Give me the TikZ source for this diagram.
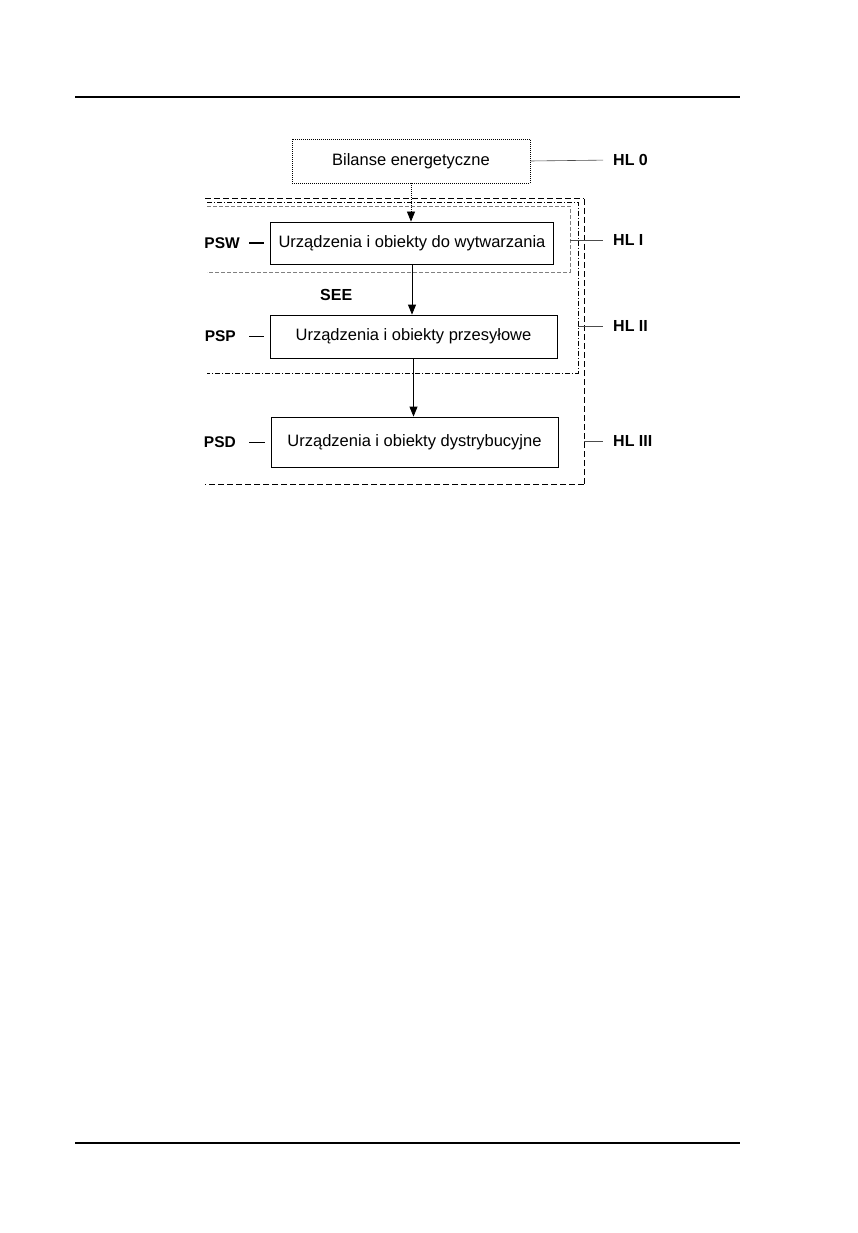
\documentclass[tikz,border=0pt]{standalone}
\usepackage{fontspec}
\setmainfont{Liberation Sans}
\usetikzlibrary{arrows.meta}
\begin{document}
\begin{tikzpicture}[x=1pt, y=-1pt,
        box/.style={draw, line width=0.8pt, minimum width=283pt, minimum height=42pt, inner sep=0pt, font=\fontsize{16.5}{19}\selectfont},
        dotbox/.style={box, dash pattern=on 1pt off 1pt, minimum width=238pt, minimum height=44pt},
        lvl/.style={anchor=west, inner sep=0pt, font=\fontsize{16}{18}\selectfont\bfseries},
        sys/.style={anchor=east, inner sep=0pt, font=\fontsize{15.5}{18}\selectfont\bfseries},
        tie/.style={gray!60!black, line width=0.6pt, shorten >=10pt},
        tick/.style={line width=0.8pt, shorten <=9pt, shorten >=6pt},
        flow/.style={line width=0.8pt, -{Triangle[length=10pt, width=8pt]}},
    ]
    \useasboundingbox (0,0) rectangle (858,1233);

    % ===== Page rules =====
    \draw[line width=1.2pt] (75,97) -- (740,97);
    \draw[line width=1.2pt] (75,1143) -- (740,1143);

    % ===== Boxes =====
    \node[dotbox] (bil) at (411,161) {Bilanse energetyczne};
    \node[box] (psw) at (412,243) {Urządzenia i obiekty do wytwarzania};
    \node[box, minimum width=287pt, minimum height=43pt] (psp) at (413.5,336.5) {Urządzenia i obiekty przesyłowe};
    \node[box, minimum width=287pt, minimum height=50pt] (psd) at (414.5,442) {Urządzenia i obiekty dystrybucyjne};

    % ===== Level frames (open on the left) =====
    % HL III
    \draw[line width=1pt, dash pattern=on 6pt off 3pt] (205,199) -- (584,199);
    \draw[line width=1pt, dash pattern=on 6pt off 3pt] (584,484) -- (205,484);
    \draw[line width=0.6pt, dash pattern=on 6pt off 3pt] (584,199) -- (584,484);
    % HL II
    \draw[line width=0.7pt, dash pattern=on 5pt off 2pt on 1pt off 2pt] (207,202) -- (578,202) -- (578,373) -- (207,373);
    % HL I
    \draw[gray, line width=0.6pt, dash pattern=on 4pt off 2pt] (207,206) -- (570,206) -- (570,272) -- (207,272);

    \coordinate (f1) at (570,240);
    \coordinate (f2) at (578,326);
    \coordinate (f3) at (584,441);

    % ===== Level labels =====
    \node[lvl] (hl0) at (613,160) {HL 0};
    \node[lvl] (hl1) at (613,240) {HL I};
    \node[lvl] (hl2) at (613,326) {HL II};
    \node[lvl] (hl3) at (613,441) {HL III};

    \draw[tie] (bil.east) -- (hl0.west);
    \draw[tie] (f1) -- (hl1.west);
    \draw[tie] (f2) -- (hl2.west);
    \draw[tie] (f3) -- (hl3.west);

    % ===== Subsystem labels =====
    \node[sys] (pswlab) at (240,243) {PSW};
    \node[sys] (psplab) at (236,336.5) {PSP};
    \node[sys] (psdlab) at (236,442) {PSD};
    \node[lvl] (see) at (320,295) {SEE};

    \draw[tick, line width=1.4pt] (pswlab.east) -- (psw.west);
    \draw[tick, shorten <=13pt] (psplab.east) -- (psp.west);
    \draw[tick, shorten <=13pt] (psdlab.east) -- (psd.west);

    % ===== Flow =====
    \draw[flow, dash pattern=on 1pt off 1pt] (bil.south) -- (bil.south |- psw.north);
    \draw[flow] (psw.south) -- (psw.south |- psp.north);
    \draw[flow] (psp.south) -- (psp.south |- psd.north);

\end{tikzpicture}
\end{document}
